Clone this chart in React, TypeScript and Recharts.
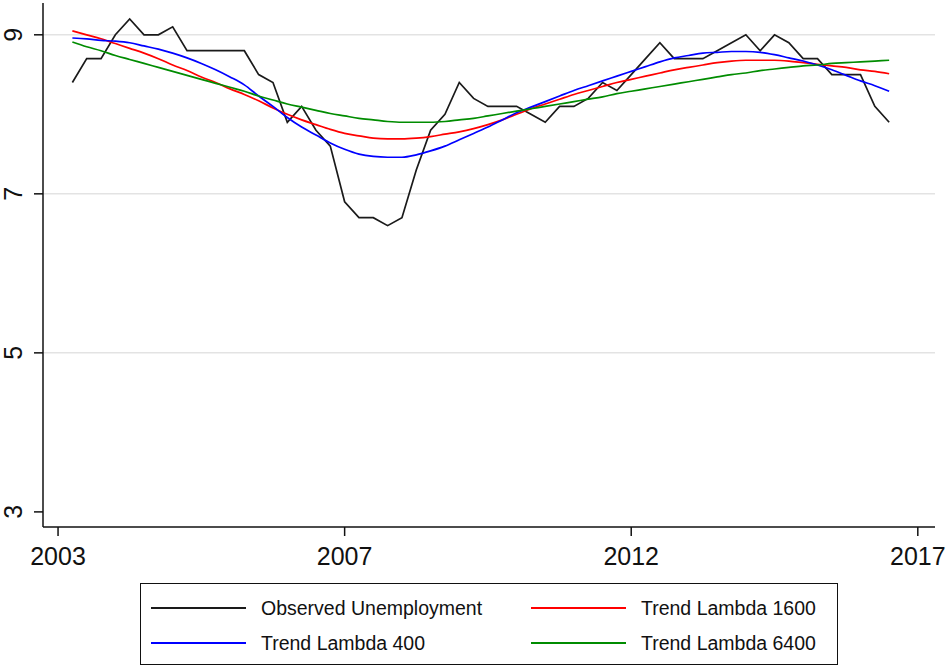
import { LineChart, Line, XAxis, YAxis, CartesianGrid } from "recharts";

// quarterly index, 0 = first tick
const quarters = [
  1, 2, 3, 4, 5, 6, 7, 8, 9, 10, 11, 12, 13, 14, 15, 16, 17, 18, 19, 20,
  21, 22, 23, 24, 25, 26, 27, 28, 29, 30, 31, 32, 33, 34, 35, 36, 37, 38, 39, 40,
  41, 42, 43, 44, 45, 46, 47, 48, 49, 50, 51, 52, 53, 54, 55, 56, 57, 58
];

const observed = [
  8.4, 8.7, 8.7, 9.0, 9.2, 9.0, 9.0, 9.1, 8.8, 8.8, 8.8, 8.8, 8.8, 8.5, 8.4, 7.9, 8.1, 7.8, 7.6, 6.9,
  6.7, 6.7, 6.6, 6.7, 7.3, 7.8, 8.0, 8.4, 8.2, 8.1, 8.1, 8.1, 8.0, 7.9, 8.1, 8.1, 8.2, 8.4, 8.3, 8.5,
  8.7, 8.9, 8.7, 8.7, 8.7, 8.8, 8.9, 9.0, 8.8, 9.0, 8.9, 8.7, 8.7, 8.5, 8.5, 8.5, 8.1, 7.9
];

const trend1600 = [
  9.05, 9.0, 8.95, 8.89, 8.83, 8.77, 8.7, 8.62, 8.55, 8.47, 8.4, 8.32, 8.25, 8.17, 8.08, 8.0, 7.93, 7.87, 7.81, 7.76,
  7.73, 7.7, 7.69, 7.69, 7.7, 7.72, 7.75, 7.78, 7.82, 7.87, 7.93, 8.0, 8.07, 8.13, 8.19, 8.25, 8.3, 8.35, 8.4, 8.44,
  8.48, 8.52, 8.56, 8.59, 8.62, 8.65, 8.67, 8.68, 8.68, 8.68, 8.67, 8.65, 8.63, 8.61, 8.59, 8.56, 8.54, 8.51
];

const trend400 = [
  8.96, 8.95, 8.93, 8.92, 8.9, 8.86, 8.82, 8.77, 8.71, 8.64, 8.56, 8.47, 8.37, 8.23, 8.1, 7.96, 7.84, 7.74, 7.64, 7.56,
  7.5, 7.47, 7.46, 7.46, 7.49, 7.54, 7.6, 7.68, 7.76, 7.84, 7.93, 8.02, 8.09, 8.16, 8.23, 8.3, 8.36, 8.42, 8.48, 8.54,
  8.6, 8.66, 8.71, 8.74, 8.77, 8.78, 8.79, 8.79, 8.78, 8.75, 8.71, 8.67, 8.62, 8.56, 8.49, 8.42, 8.36, 8.29
];

const trend6400 = [
  8.91, 8.85, 8.8, 8.74, 8.69, 8.64, 8.59, 8.54, 8.49, 8.44, 8.39, 8.34, 8.29, 8.23, 8.18, 8.13, 8.09, 8.05, 8.01, 7.98,
  7.95, 7.93, 7.91, 7.9, 7.9, 7.9, 7.91, 7.93, 7.95, 7.98, 8.01, 8.04, 8.07, 8.1, 8.13, 8.16, 8.19, 8.22, 8.26, 8.29,
  8.32, 8.35, 8.38, 8.41, 8.44, 8.47, 8.5, 8.52, 8.55, 8.57, 8.59, 8.61, 8.62, 8.64, 8.65, 8.66, 8.67, 8.68
];

const xTicks = [0, 20, 40, 60];
const xLabels = ["2003", "2007", "2012", "2017"];
const yTicks = [3, 5, 7, 9];

const data = quarters.map((q, i) => ({
  q,
  observed: observed[i],
  t1600: trend1600[i],
  t400: trend400[i],
  t6400: trend6400[i]
}));

const FONT = "'Liberation Sans', Arial, sans-serif";

const XTick = (props: any) => {
  const { x, y, payload } = props;
  const idx = xTicks.indexOf(payload.value);
  return (
    <text x={x} y={y + 27} textAnchor="middle" fontSize={25} fontFamily={FONT} fill="#111">
      {xLabels[idx]}
    </text>
  );
};

const YTick = (props: any) => {
  const { y, payload } = props;
  return (
    <text
      x={0}
      y={0}
      transform={`translate(22, ${y}) rotate(-90)`}
      textAnchor="middle"
      fontSize={25}
      fontFamily={FONT}
      fill="#111"
    >
      {payload.value}
    </text>
  );
};

const legendItems = [
  { label: "Observed Unemployment", color: "#1a1a1a" },
  { label: "Trend Lambda 1600", color: "#ff0000" },
  { label: "Trend Lambda 400", color: "#0000ff" },
  { label: "Trend Lambda 6400", color: "#008c00" }
];

export default function App() {
  return (
    <div style={{ position: "absolute", left: 0, top: 0, width: 949, height: 669, background: "#fff" }}>
      <LineChart
        width={949}
        height={669}
        data={data}
        margin={{ top: 3, right: 14, left: 0, bottom: 102 }}
      >
        <CartesianGrid horizontal vertical={false} horizontalValues={[5, 7, 9]} stroke="#e3e3e3" strokeWidth={1.5} />
        <XAxis
          dataKey="q"
          type="number"
          domain={[-1.05, 61.2]}
          ticks={xTicks}
          allowDataOverflow
          height={40}
          tick={<XTick />}
          tickSize={9}
          axisLine={{ stroke: "#111", strokeWidth: 1.5 }}
          tickLine={{ stroke: "#111", strokeWidth: 1.5 }}
        />
        <YAxis
          type="number"
          domain={[2.81, 9.4]}
          ticks={yTicks}
          allowDataOverflow
          width={43}
          tick={<YTick />}
          tickSize={9}
          axisLine={{ stroke: "#111", strokeWidth: 1.5 }}
          tickLine={{ stroke: "#111", strokeWidth: 1.5 }}
        />
        <Line type="linear" dataKey="observed" stroke="#1a1a1a" strokeWidth={1.7} dot={false} isAnimationActive={false} />
        <Line type="monotone" dataKey="t1600" stroke="#ff0000" strokeWidth={1.7} dot={false} isAnimationActive={false} />
        <Line type="monotone" dataKey="t400" stroke="#0000ff" strokeWidth={1.7} dot={false} isAnimationActive={false} />
        <Line type="monotone" dataKey="t6400" stroke="#008c00" strokeWidth={1.7} dot={false} isAnimationActive={false} />
      </LineChart>
      <div
        style={{
          position: "absolute",
          left: 140,
          top: 583,
          width: 696,
          height: 80,
          border: "1.5px solid #111",
          fontFamily: FONT,
          fontSize: 19.5,
          color: "#111"
        }}
      >
        {legendItems.map((it, i) => {
          const col = i % 2;
          const row = Math.floor(i / 2);
          return (
            <div
              key={it.label}
              style={{
                position: "absolute",
                left: 10 + col * 380,
                top: 12 + row * 35,
                display: "flex",
                alignItems: "center",
                height: 24
              }}
            >
              <div style={{ width: 95, height: 2, background: it.color, marginRight: 15 }} />
              <span>{it.label}</span>
            </div>
          );
        })}
      </div>
    </div>
  );
}
